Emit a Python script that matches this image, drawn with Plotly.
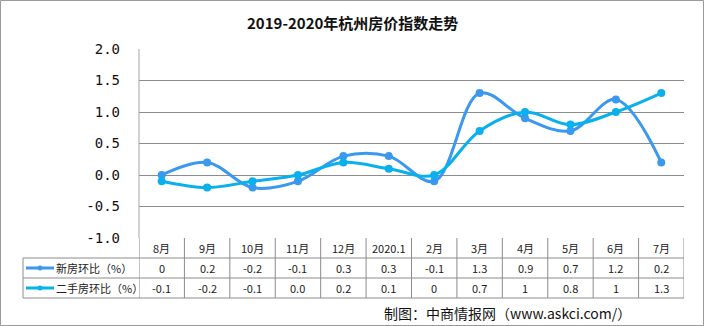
import plotly.graph_objects as go

categories = ["8月", "9月", "10月", "11月", "12月", "2020.1", "2月", "3月", "4月", "5月", "6月", "7月"]
new_vals = [0, 0.2, -0.2, -0.1, 0.3, 0.3, -0.1, 1.3, 0.9, 0.7, 1.2, 0.2]
second_vals = [-0.1, -0.2, -0.1, 0.0, 0.2, 0.1, 0, 0.7, 1, 0.8, 1, 1.3]
new_labels = ["0", "0.2", "-0.2", "-0.1", "0.3", "0.3", "-0.1", "1.3", "0.9", "0.7", "1.2", "0.2"]
second_labels = ["-0.1", "-0.2", "-0.1", "0.0", "0.2", "0.1", "0", "0.7", "1", "0.8", "1", "1.3"]
series_names = ["新房环比（%）", "二手房环比（%）"]
y_ticks = [-1.0, -0.5, 0.0, 0.5, 1.0, 1.5, 2.0]
y_tick_text = ["-1.0", "-0.5", "0.0", "0.5", "1.0", "1.5", "2.0"]
title_text = "2019-2020年杭州房价指数走势"
source_text = "制图：中商情报网（www.askci.com/）"

W, H = 704, 326
L, R, T, B = 139, 684, 49, 238
colors = ["#3a98ee", "#08b1ee"]
FONT = "Noto Sans CJK SC"


def px(x):
    return (x - L) / (R - L)


def py(y):
    return (B - y) / (B - T)


fig = go.Figure()
for name, vals, col in zip(series_names, [new_vals, second_vals], colors):
    fig.add_trace(go.Scatter(
        x=categories, y=vals, name=name, mode="lines+markers",
        line=dict(color=col, width=3, shape="spline", smoothing=1.0),
        marker=dict(color=col, size=8), cliponaxis=False, showlegend=False))

shapes = []
annotations = []
gray = "#8c8c8c"
n = len(categories)
# table horizontal lines
for y in [258, 278, 298]:
    shapes.append(dict(type="line", xref="paper", yref="paper", x0=px(23), x1=px(684),
                       y0=py(y), y1=py(y), line=dict(color=gray, width=1)))
# vertical lines of table (category boundaries)
for i in range(n + 1):
    shapes.append(dict(type="line", xref="x", yref="paper", x0=i - 0.5, x1=i - 0.5,
                       y0=py(238), y1=py(298), line=dict(color=gray, width=1)))
shapes.append(dict(type="line", xref="paper", yref="paper", x0=px(23), x1=px(23),
                   y0=py(258), y1=py(298), line=dict(color=gray, width=1)))
# left axis line of plot
shapes.append(dict(type="line", xref="paper", yref="paper", x0=0, x1=0,
                   y0=0, y1=1, line=dict(color="#a6a6a6", width=1)))
# outer border
shapes.append(dict(type="rect", xref="paper", yref="paper", x0=px(0.5), x1=px(703.5),
                   y0=py(0.5), y1=py(325.5), line=dict(color="#9a9a9a", width=1)))

cell_font = dict(family=FONT, size=11, color="#222")
# header row
for i, c in enumerate(categories):
    annotations.append(dict(x=i, y=py(248), xref="x", yref="paper", text=c, showarrow=False,
                            font=cell_font, xanchor="center", yanchor="middle"))
# value rows
for row_y, labels in [(268, new_labels), (288, second_labels)]:
    for i, t in enumerate(labels):
        annotations.append(dict(x=i, y=py(row_y), xref="x", yref="paper", text=t, showarrow=False,
                                font=cell_font, xanchor="center", yanchor="middle"))
# legend keys in table
for row_y, name, col in [(268, series_names[0], colors[0]), (288, series_names[1], colors[1])]:
    shapes.append(dict(type="line", xref="paper", yref="paper", x0=px(26), x1=px(54),
                       y0=py(row_y), y1=py(row_y), line=dict(color=col, width=3)))
    shapes.append(dict(type="circle", xref="paper", yref="paper", x0=px(37.5), x1=px(42.5),
                       y0=py(row_y + 2.5), y1=py(row_y - 2.5), fillcolor=col, line=dict(color=col, width=0)))
    annotations.append(dict(x=px(54), y=py(row_y), xref="paper", yref="paper", text=name, showarrow=False,
                            font=cell_font, xanchor="left", yanchor="middle"))
# title and source
annotations.append(dict(x=px(352), y=py(22), xref="paper", yref="paper", text="<b>" + title_text + "</b>",
                        showarrow=False, font=dict(family=FONT, size=15, color="#111"),
                        xanchor="center", yanchor="middle"))
annotations.append(dict(x=px(507), y=py(313), xref="paper", yref="paper", text=source_text,
                        showarrow=False, font=dict(family=FONT, size=14, color="#111"),
                        xanchor="center", yanchor="middle"))

fig.update_layout(
    width=W, height=H, margin=dict(l=L, r=W - R, t=T, b=H - B),
    paper_bgcolor="white", plot_bgcolor="white", showlegend=False,
    xaxis=dict(type="category", categoryorder="array", categoryarray=categories,
               range=[-0.5, n - 0.5], showticklabels=False, showgrid=False, zeroline=False,
               showline=False, ticks=""),
    yaxis=dict(range=[-1.0, 2.0], tickvals=y_ticks, ticktext=y_tick_text, showgrid=True,
               gridcolor="#8c8c8c", gridwidth=1, zeroline=False, showline=False, ticks="",
               ticklabelstandoff=18, tickfont=dict(family="DejaVu Sans Mono", size=14, color="#111")),
    shapes=shapes, annotations=annotations,
)
fig.write_html("out.html")
